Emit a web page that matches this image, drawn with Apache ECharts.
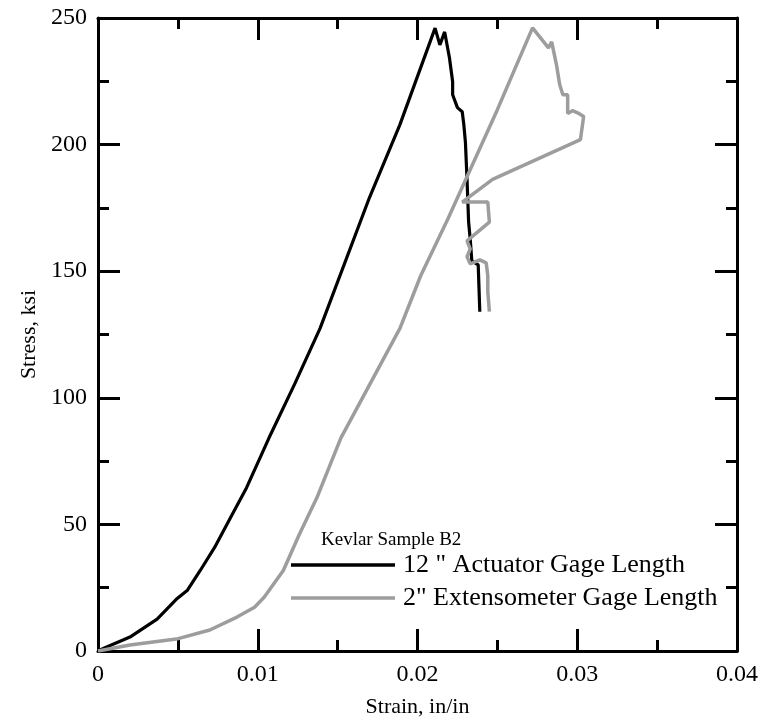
<!DOCTYPE html>
<html>
<head>
<meta charset="utf-8">
<script src="https://cdn.jsdelivr.net/npm/echarts@6/dist/echarts.min.js"></script>
<style>html,body{margin:0;padding:0;background:#fff}#c{width:761px;height:723px}</style>
</head>
<body>
<div id="c"></div>
<script>
var actuatorStrain = [0, 0.0004, 0.0020, 0.0037, 0.0049, 0.0056, 0.0064, 0.0073, 0.0083, 0.0093, 0.0107, 0.0123, 0.0139, 0.0170, 0.0189, 0.0211, 0.0214, 0.0217, 0.0220, 0.0222, 0.0222, 0.0225, 0.0228, 0.0229, 0.0230, 0.0231, 0.0232, 0.0233, 0.0234, 0.0238, 0.0239];
var actuatorStress = [0, 1.2, 5.5, 12.6, 20.4, 24.0, 31.8, 40.9, 52.7, 64.5, 84.1, 105.3, 127.4, 179.2, 207.9, 246, 239.4, 244.5, 234.3, 224.8, 219.7, 214.6, 213, 207.9, 200.9, 186.3, 169.4, 162.7, 154.1, 152.5, 134.0];
var extStrain = [0, 0.0020, 0.0049, 0.0070, 0.0087, 0.0098, 0.0104, 0.0116, 0.0126, 0.0137, 0.0152, 0.0189, 0.0202, 0.0219, 0.0250, 0.0272, 0.0282, 0.0284, 0.0287, 0.0289, 0.0291, 0.0294, 0.0294, 0.0297, 0.0301, 0.0304, 0.0302, 0.0247, 0.0228, 0.0244, 0.0245, 0.0231, 0.0233, 0.0231, 0.0233, 0.0239, 0.0243, 0.0244, 0.0244, 0.0245];
var extStress = [0, 2.4, 4.7, 8.3, 13.4, 17.3, 21.2, 31.8, 46.0, 60.5, 84.1, 127.4, 148.2, 170.6, 213.8, 246.1, 238.2, 240.6, 231.5, 223.7, 219.7, 219.7, 212.3, 213.4, 212.3, 211.1, 202.0, 186.3, 177.3, 177.3, 169.4, 162.0, 158.8, 155.7, 152.9, 154.5, 153.3, 148.2, 141.9, 134.0];
var seriesNames = ['12 " Actuator Gage Length', '2" Extensometer Gage Length'];
var legendTitle = 'Kevlar Sample B2';
var xTitle = 'Strain, in/in';
var yTitle = 'Stress, ksi';

function zip(a, b) { return a.map(function (v, i) { return [v, b[i]]; }); }

var FONT = 'Liberation Serif';
var titleTxt = { fontFamily: FONT, fontSize: 22, color: '#000' };
var axLine = { show: true, onZero: false, lineStyle: { color: '#000', width: 3 } };
var tick = { show: true, inside: true, length: 22, lineStyle: { color: '#000', width: 3 } };
var minor = { show: true, splitNumber: 2, length: 11, lineStyle: { color: '#000', width: 3 } };
var GRAY = '#9d9d9d';

var chart = echarts.init(document.getElementById('c'), null, { renderer: 'canvas' });
chart.setOption({
  animation: false,
  backgroundColor: '#fff',
  grid: { left: 98, right: 24, top: 18, bottom: 69 },
  title: {
    text: legendTitle, left: 321, top: 531,
    padding: 0,
    textStyle: { fontFamily: FONT, fontSize: 19, fontWeight: 'normal', color: '#000' }
  },
  legend: {
    orient: 'vertical', left: 291, top: 552, padding: 0,
    itemWidth: 104, itemHeight: 3.5, itemGap: 7,
    icon: 'rect',
    data: seriesNames,
    textStyle: { fontFamily: FONT, fontSize: 26, color: '#000', padding: [0, 0, 0, 3] }
  },
  xAxis: [
    { type: 'value', position: 'bottom', min: 0, max: 0.04, interval: 0.01,
      name: xTitle, nameLocation: 'middle', nameGap: 45, nameTextStyle: titleTxt,
      axisLine: axLine, axisTick: tick, minorTick: minor,
      axisLabel: { fontFamily: FONT, fontSize: 24, color: '#000', margin: 12 },
      splitLine: { show: false }, minorSplitLine: { show: false } },
    { type: 'value', position: 'top', min: 0, max: 0.04, interval: 0.01,
      axisLine: axLine, axisTick: tick, minorTick: minor,
      axisLabel: { show: false }, splitLine: { show: false } }
  ],
  yAxis: [
    { type: 'value', position: 'left', min: 0, max: 250, interval: 50,
      name: yTitle, nameLocation: 'middle', nameGap: 49, nameTextStyle: titleTxt,
      axisLine: axLine, axisTick: tick, minorTick: minor,
      axisLabel: { fontFamily: FONT, fontSize: 24, color: '#000', margin: 11 },
      splitLine: { show: false } },
    { type: 'value', position: 'right', min: 0, max: 250, interval: 50,
      axisLine: axLine, axisTick: tick, minorTick: minor,
      axisLabel: { show: false }, splitLine: { show: false } }
  ],
  series: [
    { name: seriesNames[0], type: 'line', symbol: 'none', xAxisIndex: 0, yAxisIndex: 0,
      data: zip(actuatorStrain, actuatorStress),
      lineStyle: { color: '#000', width: 3.2 }, itemStyle: { color: '#000' } },
    { name: seriesNames[1], type: 'line', symbol: 'none', xAxisIndex: 0, yAxisIndex: 0,
      data: zip(extStrain, extStress),
      lineStyle: { color: GRAY, width: 3.5 }, itemStyle: { color: GRAY } }
  ]
});
</script>
</body>
</html>
